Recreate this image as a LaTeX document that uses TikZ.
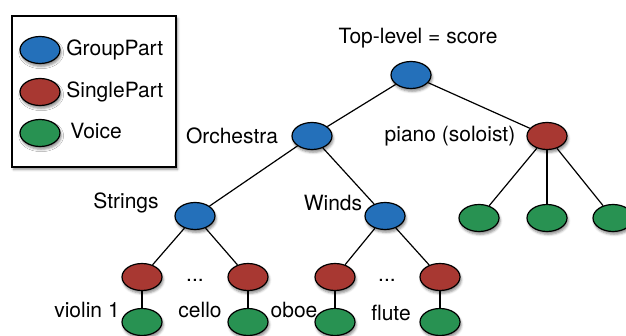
\documentclass[tikz,border=0pt]{standalone}
\usepackage{fontspec}
\setmainfont{TeX Gyre Heros}
\usepackage{xcolor}
\usetikzlibrary{positioning,shapes.geometric,shadows.blur}
\definecolor{partblue}{RGB}{36,112,186}
\definecolor{partred}{RGB}{168,56,50}
\definecolor{voicegreen}{RGB}{40,146,82}
\tikzset{
  base/.style={ellipse, draw=black, semithick, minimum width=20pt, minimum height=13.5pt, inner sep=0pt,
    blur shadow={shadow xshift=0.6pt, shadow yshift=-1.4pt, shadow blur radius=1.2pt, shadow opacity=45}},
  group/.style={base, fill=partblue},
  single/.style={base, fill=partred},
  voice/.style={base, fill=voicegreen},
  tag/.style={font=\fontsize{10.5}{12}\selectfont, inner sep=1pt, text=black},
  link/.style={semithick, draw=black},
  legendbox/.style={draw=black, very thick, fill=white,
    blur shadow={shadow xshift=0.8pt, shadow yshift=-1.2pt, shadow blur radius=1.2pt, shadow opacity=45}}
}

\begin{document}
\begin{tikzpicture}[x=0.5pt, y=0.5pt, on grid]
  \useasboundingbox (0,0) rectangle (626,-336);
  \clip (0,0) rectangle (626,-336);

  % Legend
  \draw[legendbox] (12,-16) rectangle (176,-167);
  \node[group] (keygroup) at (40,-50) {};
  \node[single, below=21pt of keygroup] (keysingle) {};
  \node[voice, below=20.5pt of keysingle] (keyvoice) {};
  \node[tag, right=12pt of keygroup, anchor=west] (txtgroup) {GroupPart};
  \node[tag, right=12pt of keysingle, anchor=west] (txtsingle) {SinglePart};
  \node[tag, right=14pt of keyvoice, anchor=west, yshift=1pt] (txtvoice) {Voice};

  % Top of the tree
  \node[group] (score) at (411,-75) {};
  \node[group, below left=30.5pt and 49.5pt of score] (orch) {};
  \node[single, below right=30.5pt and 68pt of score] (piano) {};

  % Orchestra sections
  \node[group, below left=40pt and 58.5pt of orch] (strings) {};
  \node[group, below right=40pt and 36.5pt of orch] (winds) {};

  % Piano voices
  \node[voice, below=41pt of piano] (pvb) {};
  \node[voice, left=34pt of pvb] (pva) {};
  \node[voice, right=33pt of pvb] (pvc) {};

  % Single parts and their voices
  \node[single, below left=30.5pt and 26.5pt of strings] (violin) {};
  \node[single, below right=30.5pt and 26.5pt of strings] (cello) {};
  \node[single, below left=30.5pt and 25pt of winds] (oboe) {};
  \node[single, below right=30.5pt and 27.5pt of winds] (flute) {};
  \node[voice, below=22.5pt of violin] (vviolin) {};
  \node[voice, below=22.5pt of cello] (vcello) {};
  \node[voice, below=22.5pt of oboe] (voboe) {};
  \node[voice, below=22.5pt of flute] (vflute) {};

  % Labels
  \node[tag, above=18.5pt of score, xshift=3.5pt] (lscore) {Top-level = score};
  \node[tag, left=40pt of orch] (lorch) {Orchestra};
  \node[tag, left=48.5pt of piano] (lpiano) {piano (soloist)};
  \node[tag, above left=6.5pt and 34.5pt of strings] (lstrings) {Strings};
  \node[tag, above left=6.5pt and 26pt of winds] (lwinds) {Winds};
  \node[tag, above left=6pt and 27.5pt of vviolin] (lviolin) {violin 1};
  \node[tag, above left=6pt and 24pt of vcello] (lcello) {cello};
  \node[tag, above left=6pt and 20.5pt of voboe] (loboe) {oboe};
  \node[tag, above left=4.5pt and 24.5pt of vflute] (lflute) {flute};
  \node[tag, below=32pt of strings] (dotsa) {...};
  \node[tag, below=32pt of winds, xshift=1pt] (dotsb) {...};

  % Edges
  \draw[link] (score) -- (orch);
  \draw[link] (score) -- (piano);
  \draw[link] (orch) -- (strings);
  \draw[link] (orch) -- (winds);
  \foreach \v in {pva,pvb,pvc}
    \draw[link] (piano) -- (\v);
  \draw[link] (strings) -- (violin);
  \draw[link] (strings) -- (cello);
  \draw[link] (winds) -- (oboe);
  \draw[link] (winds) -- (flute);
  \foreach \p in {violin,cello,oboe,flute}
    \draw[link] (\p) -- (v\p);

\end{tikzpicture}
\end{document}
